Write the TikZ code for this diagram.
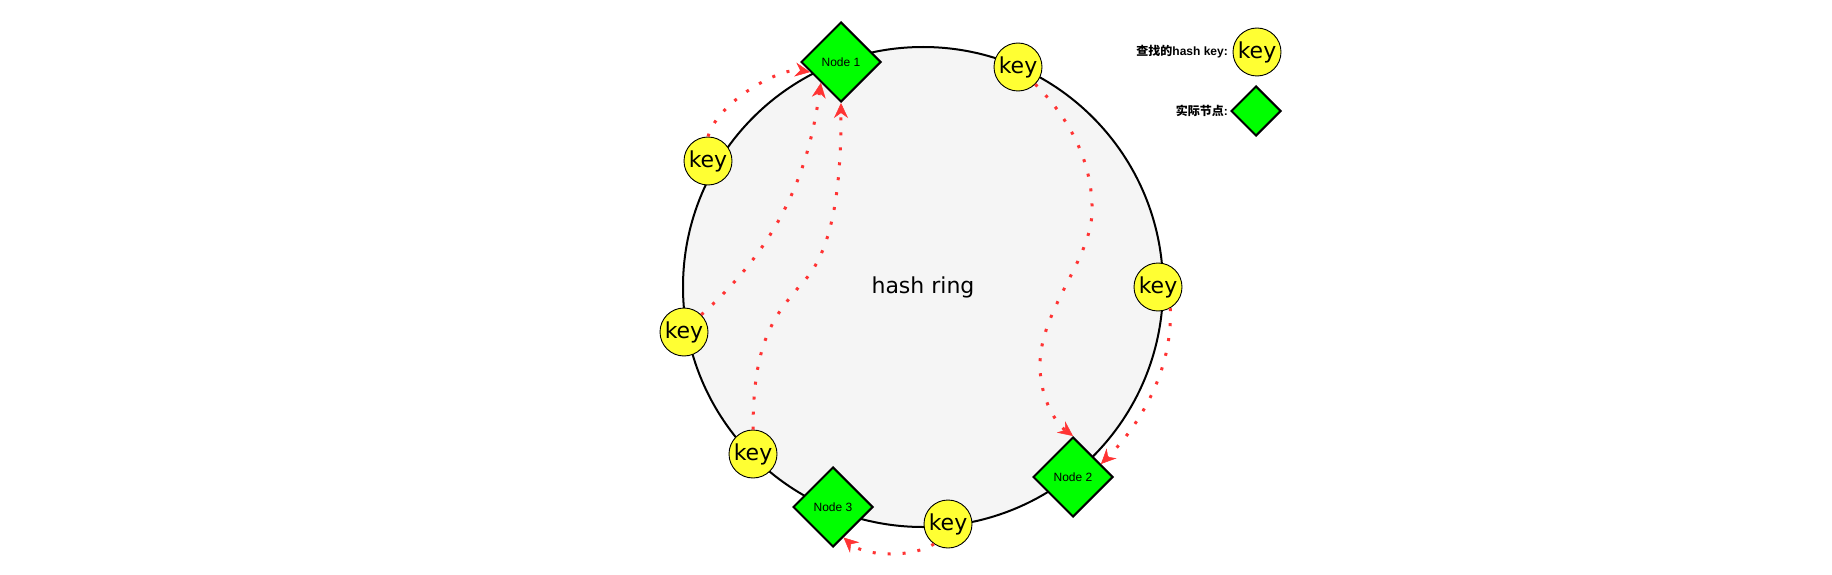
\documentclass[tikz,border=0pt]{standalone}
\usepackage{fontspec}
\setmainfont{DejaVu Sans}
\newfontfamily\arialf{Liberation Sans}
\newfontfamily\cjk{Noto Sans CJK SC}
\usetikzlibrary{shapes.geometric,arrows.meta}
\definecolor{keyyellow}{HTML}{FFFF33}
\definecolor{nodegreen}{HTML}{00FF00}
\definecolor{ringfill}{HTML}{F5F5F5}
\definecolor{arrowred}{HTML}{FF3333}
\begin{document}
\begin{tikzpicture}[x=1pt,y=-1pt,
  ringnode/.style={circle, draw=black, line width=2pt, fill=ringfill, minimum size=480pt, inner sep=0pt, font=\fontsize{22}{26}\selectfont},
  keynode/.style={circle, draw=black, line width=0.9pt, fill=keyyellow, minimum size=48pt, inner sep=0pt, font=\fontsize{22}{26}\selectfont},
  hashnode/.style={diamond, draw=black, line width=2pt, fill=nodegreen, minimum width=80pt, minimum height=80pt, inner sep=0pt, font=\arialf\fontsize{12}{14}\selectfont},
  lookup/.style={draw=arrowred, line width=3pt, dash pattern=on 3pt off 12pt, -{Stealth[length=15pt,width=14pt,inset=5pt,line width=0.5pt]}},
  legendtext/.style={anchor=east, inner sep=0pt, font=\bfseries\fontsize{12}{14}\selectfont}]
\useasboundingbox (0,0) rectangle (1832,575);
\fill[white] (0,0) rectangle (1832,575);
% ring
\node[ringnode] (ring) at (923,287) {hash ring};
% hash nodes
\node[hashnode] (n1) at (841,62) {Node 1};
\node[hashnode] (n2) at (1073,477) {Node 2};
\node[hashnode] (n3) at (833,507) {Node 3};
% keys
\node[keynode] (k1) at (708,161) {key};
\node[keynode] (k2) at (684,332) {key};
\node[keynode] (k3) at (753,454) {key};
\node[keynode] (k4) at (1018,67) {key};
\node[keynode] (k5) at (1158,287) {key};
\node[keynode] (k6) at (948,524) {key};
% waypoints
\coordinate (w3) at (805,280);
\coordinate (w4a) at (1092,212);
\coordinate (w4b) at (1040,365);
% lookups
\draw[lookup] (k1.north) .. controls +(10,-35) and +(-30,-5) .. (n1.198);
\draw[lookup] (k2.45) .. controls +(90,-80) and +(-10,70) .. (n1.226);
\draw[lookup] (k3.north) .. controls +(0,-90) and +(-30,34) .. (w3)
  .. controls +(30,-34) and +(0,76) .. (n1.south);
\draw[lookup] (k4.-45) .. controls +(44,44) and +(1,-37) .. (w4a)
  .. controls +(-1,48) and +(0,-55) .. (w4b)
  .. controls +(0,35) and +(-16,-12) .. (n2.north);
\draw[lookup] (k5.-60) .. controls +(3,70) and +(30,-30) .. (n2.25);
\draw[lookup] (k6.235) .. controls +(-25,15) and +(20,18) .. (n3.-71);
% legend
\node[keynode] (lk) at (1257,52) {key};
\node[hashnode, minimum width=50pt, minimum height=50pt] (ln) at (1256,111) {};
\node[legendtext] (lt1) at (1228,52) {{\cjk 查找的}{\arialf hash key:}};
\node[legendtext] (lt2) at (1228,111) {{\cjk 实际节点}{\arialf :}};
\end{tikzpicture}
\end{document}
